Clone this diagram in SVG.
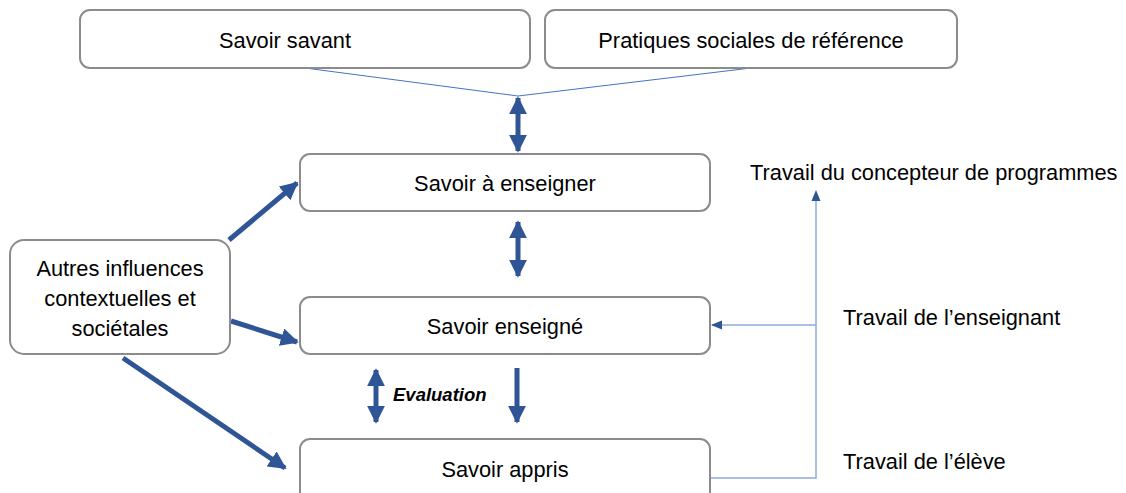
<svg xmlns="http://www.w3.org/2000/svg" width="1126" height="493" viewBox="0 0 1126 493">
<style>
.box{fill:#fff;stroke:#8c8c8c;stroke-width:2}
.t{font-family:"Liberation Sans",Arial,sans-serif;font-size:21.8px;fill:#000}
.c{text-anchor:middle}
.thick{stroke:#2F5597;stroke-width:5;fill:none}
.thin{stroke:#4472C4;stroke-width:1;fill:none}
.light{stroke:#8FAADC;stroke-width:1.5;fill:none}
</style>
<defs>
<marker id="ah" viewBox="0 0 10 10" refX="9" refY="5" markerWidth="3.6" markerHeight="3.6" orient="auto-start-reverse" markerUnits="strokeWidth">
<path d="M0,0 L10,5 L0,10 z" fill="#2F5597"/>
</marker>
</defs>
<rect width="1126" height="493" fill="#fff"/>
<g id="connectors">
<polyline class="thin" points="305,68 518,96 751,68"/>
<line class="thick" x1="518" y1="98" x2="518" y2="151" marker-start="url(#ah)" marker-end="url(#ah)"/>
<line class="thick" x1="518" y1="222" x2="518" y2="276" marker-start="url(#ah)" marker-end="url(#ah)"/>
<line class="thick" x1="376" y1="370" x2="376" y2="422" marker-start="url(#ah)" marker-end="url(#ah)"/>
<line class="thick" x1="517" y1="368" x2="517" y2="422" marker-end="url(#ah)"/>
<line class="thick" x1="229" y1="240" x2="297" y2="183" marker-end="url(#ah)"/>
<line class="thick" x1="231" y1="321" x2="297" y2="342" marker-end="url(#ah)"/>
<line class="thick" x1="123" y1="358" x2="285" y2="468" marker-end="url(#ah)"/>
<polyline class="light" points="711,478 816,478 816,193"/>
<line class="light" x1="816" y1="325" x2="712" y2="325"/>
<path d="M816,190 L811.5,201 L820.5,201 z" fill="#2F5597"/>
<path d="M711,325 L722,320.5 L722,329.5 z" fill="#2F5597"/>
</g>
<g id="savoir-savant"><rect class="box" x="80" y="10" width="450" height="58" rx="10"/><text class="t c" x="285" y="48">Savoir savant</text></g>
<g id="pratiques"><rect class="box" x="545" y="10" width="412" height="58" rx="10"/><text class="t c" x="751" y="48">Pratiques sociales de référence</text></g>
<g id="savoir-a-enseigner"><rect class="box" x="300" y="154" width="410" height="57" rx="10"/><text class="t c" x="505" y="191">Savoir à enseigner</text></g>
<g id="savoir-enseigne"><rect class="box" x="300" y="297" width="410" height="57" rx="10"/><text class="t c" x="505" y="334">Savoir enseigné</text></g>
<g id="savoir-appris"><rect class="box" x="300" y="439" width="410" height="70" rx="10"/><text class="t c" x="505" y="477">Savoir appris</text></g>
<g id="autres"><rect class="box" x="10" y="240" width="220" height="114" rx="14"/>
<text class="t c" x="120" y="276">Autres influences</text>
<text class="t c" x="120" y="306">contextuelles et</text>
<text class="t c" x="120" y="336">sociétales</text></g>
<g id="evaluation"><text x="393" y="401" style="font-family:'Liberation Sans',Arial,sans-serif;font-size:18.5px;font-weight:bold;font-style:italic">Evaluation</text></g>
<g id="labels">
<text class="t" x="750" y="180">Travail du concepteur de programmes</text>
<text class="t" x="843" y="325">Travail de l’enseignant</text>
<text class="t" x="843" y="469">Travail de l’élève</text>
</g>
</svg>
